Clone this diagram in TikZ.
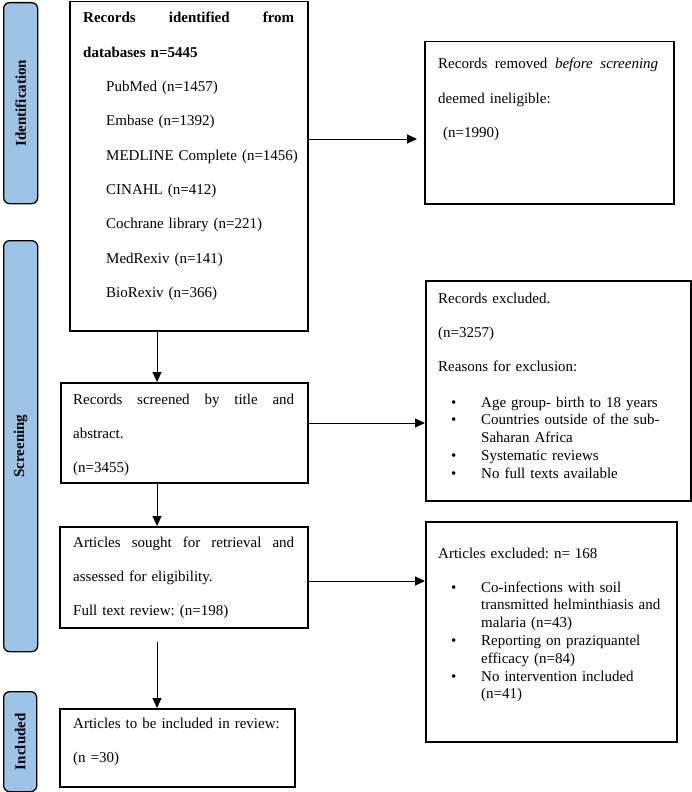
\documentclass[tikz,border=0pt]{standalone}
\usepackage{fontspec}
\setmainfont{Liberation Serif}
\usetikzlibrary{arrows.meta,calc}
\definecolor{barblue}{HTML}{9DC3E6}
\begin{document}
\frenchspacing
\begin{tikzpicture}[x=1pt,y=-1pt,
  box/.style={draw, line width=1.5pt, inner sep=0pt, anchor=north west},
  bar/.style={draw, line width=1.3pt, fill=barblue, rounded corners=6pt, inner sep=0pt, anchor=north west},
  barlabel/.style={rotate=90, font=\fontsize{15}{18}\selectfont\bfseries, inner sep=0pt},
  txt/.style={anchor=base west, inner sep=0pt, align=left, font=\fontsize{15}{34.3}\selectfont\frenchspacing},
  blist/.style={anchor=base west, inner sep=0pt, align=left, font=\fontsize{15}{17.8}\selectfont\frenchspacing},
  arr/.style={line width=1pt, -{Triangle[length=10pt,width=9pt]}}
]
\useasboundingbox (0,0) rectangle (692,792);

% side bars
\node[bar, minimum width=34pt, minimum height=201pt] (idbar) at (3,2) {};
\node[bar, minimum width=34pt, minimum height=411pt] (scbar) at (3,240) {};
\node[bar, minimum width=33pt, minimum height=100pt] (inbar) at (3,691) {};
\node[barlabel] (idlab) at (idbar.center) {Identification};
\node[barlabel] (sclab) at (scbar.center) {Screening};
\node[barlabel] (inlab) at (inbar.center) {Included};

% main boxes
\node[box, minimum width=238pt, minimum height=329pt] (b1) at (69,1) {};
\node[box, minimum width=247pt, minimum height=100pt] (b2) at (60,382) {};
\node[box, minimum width=248pt, minimum height=101pt] (b3) at (59,526) {};
\node[box, minimum width=235pt, minimum height=78pt] (b4) at (59,708) {};

% right boxes
\node[box, minimum width=249pt, minimum height=162pt] (r1) at (424,41) {};
\node[box, minimum width=265pt, minimum height=220pt] (r2) at (425,280) {};
\node[box, minimum width=251pt, minimum height=220pt] (r3) at (425,521) {};

% texts
\node[txt, text width=240pt] (t1) at (83,23) {%
\makebox[211pt][l]{\textbf{Records\hfill identified\hfill from}}\\
\textbf{databases n=5445}\\
\hspace*{23pt}PubMed (n=1457)\\
\hspace*{23pt}Embase (n=1392)\\
\hspace*{23pt}MEDLINE Complete (n=1456)\\
\hspace*{23pt}CINAHL (n=412)\\
\hspace*{23pt}Cochrane library (n=221)\\
\hspace*{23pt}MedRexiv (n=141)\\
\hspace*{23pt}BioRexiv (n=366)};

\node[txt, text width=221pt] (t2) at (73,404) {%
Records\hfill screened\hfill by\hfill title\hfill and\\
abstract.\\
(n=3455)};

\node[txt, text width=221pt] (t3) at (73,547) {%
Articles\hfill sought\hfill for\hfill retrieval\hfill and\\
assessed for eligibility.\\
Full text review: (n=198)};

\node[txt, text width=221pt] (t4) at (73,728) {%
Articles to be included in review:\\
(n =30)};

\node[txt, text width=220pt] (u1) at (438,69) {%
Records\hfill removed\hfill \textit{before}\hfill \textit{screening}\\
deemed ineligible:\\
\ (n=1990)};

\node[txt, text width=240pt] (u2) at (438,303) {%
Records excluded.\\
(n=3257)\\
Reasons for exclusion:};

\node[blist, text width=230pt] (u2b) at (451,407) {%
\makebox[30pt][l]{\textbullet}Age group- birth to 18 years\\
\makebox[30pt][l]{\textbullet}Countries outside of the sub-\\
\hspace*{30pt}Saharan Africa\\
\makebox[30pt][l]{\textbullet}Systematic reviews\\
\makebox[30pt][l]{\textbullet}No full texts available};

\node[txt, text width=230pt] (u3) at (438,558) {%
Articles excluded: n= 168};

\node[blist, text width=220pt] (u3b) at (451,592) {%
\makebox[30pt][l]{\textbullet}Co-infections with soil\\
\hspace*{30pt}transmitted helminthiasis and\\
\hspace*{30pt}malaria (n=43)\\
\makebox[30pt][l]{\textbullet}Reporting on praziquantel\\
\hspace*{30pt}efficacy (n=84)\\
\makebox[30pt][l]{\textbullet}No intervention included\\
\hspace*{30pt}(n=41)};

% connectors
\coordinate (ax) at (157,0);
\coordinate (y1) at (0,139);
\coordinate (y2) at (0,423);
\coordinate (y3) at (0,581);
\draw[arr] (b1.south -| ax) -- (b2.north -| ax);
\draw[arr] (b2.south -| ax) -- (b3.north -| ax);
\draw[arr, shorten <=13pt] (b3.south -| ax) -- (b4.north -| ax);
\draw[arr, shorten >=7pt] (b1.east |- y1) -- (r1.west |- y1);
\draw[arr] (b2.east |- y2) -- (r2.west |- y2);
\draw[arr] (b3.east |- y3) -- (r3.west |- y3);
\end{tikzpicture}
\end{document}
